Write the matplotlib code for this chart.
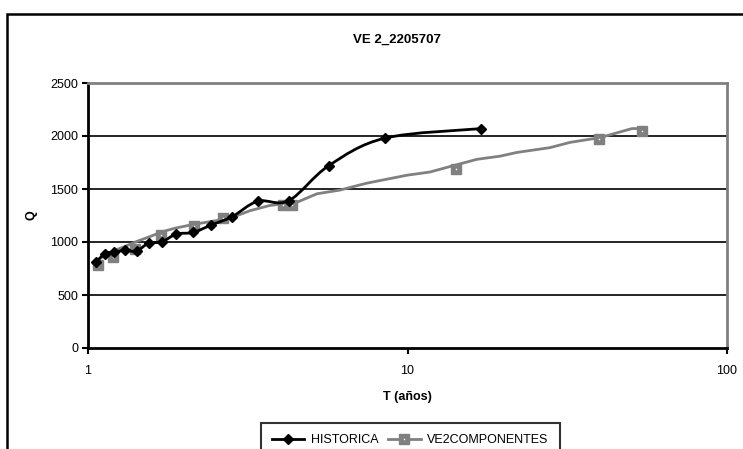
import numpy as np
import matplotlib
matplotlib.use('Agg')
import matplotlib.pyplot as plt
from matplotlib.path import Path
from matplotlib.patches import PathPatch, Rectangle
from matplotlib.lines import Line2D
from matplotlib.legend_handler import HandlerTuple

plt.rcParams['font.family'] = ['Liberation Sans', 'DejaVu Sans']

# return period (years) and flow for the observed record
hist_T = [1.06, 1.13, 1.21, 1.31, 1.42, 1.55, 1.70, 1.89, 2.13, 2.43, 2.83, 3.40, 4.25, 5.67, 8.50, 17.0]
hist_Q = [810, 890, 905, 920, 915, 990, 1000, 1075, 1090, 1160, 1240, 1385, 1390, 1720, 1980, 2070]

# two-component fit: curve and marked points
comp_T = [1.04, 1.09, 1.20, 1.31, 1.42, 1.56, 1.70, 1.87, 2.13, 2.50, 2.82, 3.21, 3.71, 4.51,
          5.21, 6.15, 7.46, 9.96, 11.75, 13.9, 16.5, 19.5, 22.0, 27.9, 32.3, 40.1, 50.4, 54.2]
comp_Q = [800, 845, 915, 960, 1005, 1050, 1095, 1130, 1165, 1200, 1230, 1295, 1345, 1375,
          1455, 1490, 1555, 1630, 1660, 1720, 1780, 1810, 1845, 1890, 1940, 1985, 2070, 2070]
mark_T = [1.075, 1.20, 1.40, 1.69, 2.15, 2.65, 4.08, 4.35, 14.2, 39.8, 54.2]
mark_Q = [783, 858, 934, 1066, 1151, 1226, 1349, 1349, 1689, 1972, 2047]

y_ticks = [0, 500, 1000, 1500, 2000, 2500]
x_ticks = [1, 10, 100]
x_ticklabels = ['1', '10', '100']

GRAY = '#808080'


def smooth_path(x, y):
    # Catmull-Rom through the points, as cubic Bezier segments in log-x space
    pts = np.column_stack([np.log10(x), np.asarray(y, float)])
    n = len(pts)
    verts = [pts[0]]
    codes = [Path.MOVETO]
    for i in range(n - 1):
        p0 = pts[max(i - 1, 0)]
        p1 = pts[i]
        p2 = pts[i + 1]
        p3 = pts[min(i + 2, n - 1)]
        verts += [p1 + (p2 - p0) / 6, p2 - (p3 - p1) / 6, p2]
        codes += [Path.CURVE4] * 3
    verts = np.array(verts)
    verts[:, 0] = 10 ** verts[:, 0]
    return Path(verts, codes)


fig = plt.figure(figsize=(7.43, 4.49), dpi=100)
W, H = 743, 449

# outer chart frame (runs off the right and bottom edges)
fig.patches.append(Rectangle((7 / W, -0.1), 1.2, 1 - 14 / H + 0.1, transform=fig.transFigure,
                             fill=False, edgecolor='black', linewidth=1.8, clip_on=False))

ax = fig.add_axes([88 / W, 1 - 348 / H, (727 - 88) / W, (348 - 83) / H])
ax.set_xscale('log')
ax.set_xlim(1, 100)
ax.set_ylim(0, 2500)

ax.plot(comp_T, comp_Q, color=GRAY, linewidth=2.0, zorder=3)
ax.plot(mark_T, mark_Q, linestyle='none', marker='s', markersize=7,
        markerfacecolor=GRAY, markeredgecolor=GRAY, zorder=4)
ax.plot(mark_T, mark_Q, linestyle='none', marker='s', markersize=1.0, markeredgewidth=0,
        markerfacecolor='white', zorder=4)

ax.add_patch(PathPatch(smooth_path(hist_T, hist_Q), fill=False, edgecolor='black',
                       linewidth=2.0, zorder=5))
ax.plot(hist_T, hist_Q, linestyle='none', marker='D', markersize=5.5,
        color='black', zorder=6)

ax.set_yticks(y_ticks)
ax.set_xticks(x_ticks)
ax.set_xticklabels(x_ticklabels)
ax.xaxis.set_minor_locator(matplotlib.ticker.NullLocator())
ax.tick_params(axis='both', direction='out', length=4, width=1.5, labelsize=9,
               color='black', pad=3)
ax.tick_params(axis='x', pad=8)

for y in y_ticks[1:-1]:
    ax.axhline(y, color='black', linewidth=1.2, zorder=1)

ax.spines['left'].set_linewidth(2)
ax.spines['bottom'].set_linewidth(2)
ax.spines['top'].set_color(GRAY)
ax.spines['right'].set_color(GRAY)
ax.spines['top'].set_linewidth(2)
ax.spines['right'].set_linewidth(2)

ax.set_ylabel('Q', fontsize=9, fontweight='bold', labelpad=9)
ax.set_xlabel('T (años)', fontsize=9, fontweight='bold', labelpad=10)
fig.text(397 / W, 1 - 40 / H, 'VE 2_2205707', ha='center', va='center',
         fontsize=9.5, fontweight='bold')

h_hist = Line2D([], [], color='black', linewidth=2, marker='D', markersize=5.5)
h_comp = Line2D([], [], color=GRAY, linewidth=2, marker='s', markersize=7)
h_dot = Line2D([], [], linestyle='none', marker='s', markersize=1.0, markeredgewidth=0,
               markerfacecolor='white')
leg = fig.legend([h_hist, (h_comp, h_dot)], ['HISTORICA', 'VE2COMPONENTES'],
                 handler_map={tuple: HandlerTuple(ndivide=1)},
                 loc='upper center', bbox_to_anchor=(410 / W, 1 - 423 / H),
                 ncol=2, fontsize=9, frameon=True, fancybox=False, shadow=False,
                 handlelength=2.6, handletextpad=0.5, columnspacing=0.8,
                 borderpad=0.9, borderaxespad=0)
leg.get_frame().set_edgecolor('black')
leg.get_frame().set_linewidth(1.5)

fig.savefig('out.png', dpi=100)
